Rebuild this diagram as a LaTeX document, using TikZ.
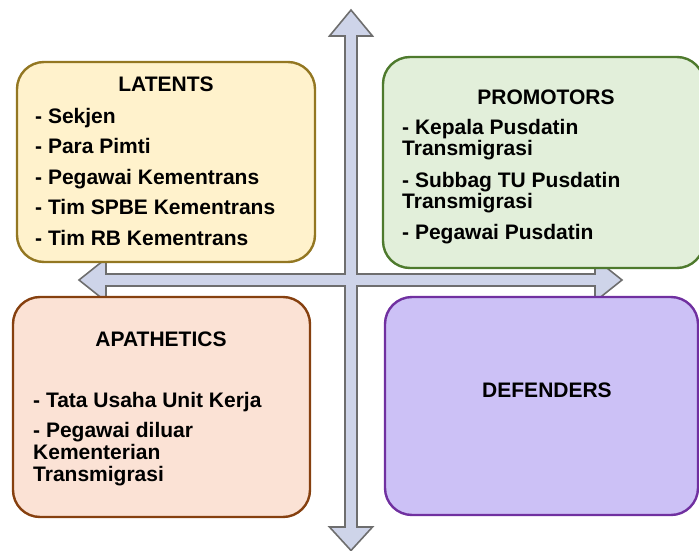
\documentclass[tikz,border=0pt]{standalone}
\usepackage{fontspec}
\setmainfont{Liberation Sans}
\definecolor{arrfill}{HTML}{CED4E9}
\definecolor{arrline}{HTML}{6E6E6E}
\definecolor{latfill}{HTML}{FFF2CC}
\definecolor{latline}{HTML}{937722}
\definecolor{profill}{HTML}{E2EFDA}
\definecolor{proline}{HTML}{4E7A2D}
\definecolor{apafill}{HTML}{FBE2D5}
\definecolor{apaline}{HTML}{86400F}
\definecolor{deffill}{HTML}{CCC1F6}
\definecolor{defline}{HTML}{7030A0}
\tikzset{
  quad/.style={line width=2.4pt, rounded corners=27pt},
  txt/.style={inner sep=0pt, anchor=base west, font=\fontsize{21}{22}\selectfont\bfseries},
  ttl/.style={inner sep=0pt, anchor=base, font=\fontsize{21}{22}\selectfont\bfseries},
}
\begin{document}
\begin{tikzpicture}[x=1pt,y=-1pt]
\useasboundingbox (0,0) rectangle (699,551);
\clip (0,0) rectangle (699,551);
% cross arrow
\draw[fill=arrfill, draw=arrline, line width=1.6pt, line join=miter]
  (345,36) -- (329.5,36) -- (351,10) -- (372.5,36) -- (357,36) -- (357,274)
  -- (595,274) -- (595,258.5) -- (622,280) -- (595,301.5) -- (595,286)
  -- (357,286) -- (357,527) -- (372.5,527) -- (351,550.5) -- (329.5,527)
  -- (345,527) -- (345,286) -- (106,286) -- (106,301.5) -- (79,280)
  -- (106,258.5) -- (106,274) -- (345,274) -- cycle;
% boxes
\draw[quad, fill=latfill, draw=latline] (17,62) rectangle (315,262);
\draw[quad, fill=profill, draw=proline] (383,57) rectangle (704,268);
\draw[quad, fill=apafill, draw=apaline] (13,297) rectangle (310,517);
\draw[quad, fill=deffill, draw=defline] (385,297) rectangle (698,515);
% LATENTS
\node[ttl] (lt) at (166,92) {LATENTS};
\node[txt] (l1) at (35,123) {- Sekjen};
\node[txt] (l2) at (35,153.5) {- Para Pimti};
\node[txt] (l3) at (35,184) {- Pegawai Kementrans};
\node[txt] (l4) at (35,214.5) {- Tim SPBE Kementrans};
\node[txt] (l5) at (35,245) {- Tim RB Kementrans};
% PROMOTORS
\node[ttl] (pt) at (546,104) {PROMOTORS};
\node[txt] (p1) at (402,134) {- Kepala Pusdatin};
\node[txt] (p1b) at (402,155) {Transmigrasi};
\node[txt] (p2) at (402,187) {- Subbag TU Pusdatin};
\node[txt] (p2b) at (402,208) {Transmigrasi};
\node[txt] (p3) at (402,239) {- Pegawai Pusdatin};
% APATHETICS
\node[ttl] (at) at (161,346) {APATHETICS};
\node[txt] (a1) at (33,407) {- Tata Usaha Unit Kerja};
\node[txt] (a2) at (33,437) {- Pegawai diluar};
\node[txt] (a2b) at (33,459) {Kementerian};
\node[txt] (a2c) at (33,481) {Transmigrasi};
% DEFENDERS
\node[ttl] (dt) at (547,397) {DEFENDERS};
\end{tikzpicture}
\end{document}
